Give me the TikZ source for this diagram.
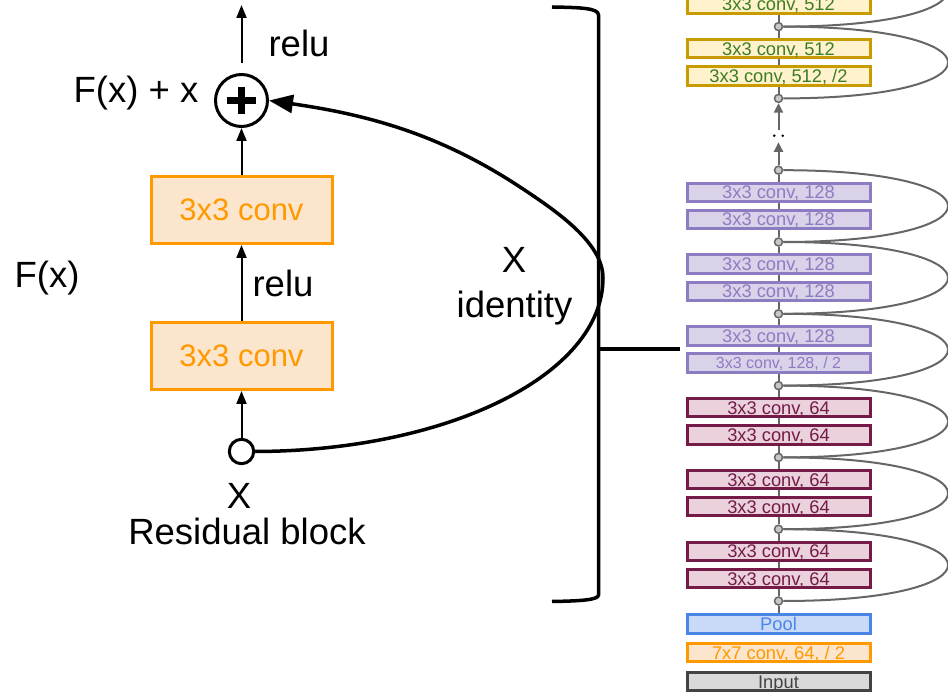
\documentclass[tikz,border=0pt]{standalone}
\usepackage{fontspec}
\setmainfont{Liberation Sans}
\usetikzlibrary{arrows.meta}
\definecolor{orng}{HTML}{FF9900}
\definecolor{orngf}{HTML}{FCE5CD}
\definecolor{goldb}{HTML}{C89B00}
\definecolor{goldf}{HTML}{FFF2CC}
\definecolor{goldt}{HTML}{3C7D22}
\definecolor{purpb}{HTML}{8E7CC3}
\definecolor{purpf}{HTML}{D9D2E9}
\definecolor{magb}{HTML}{741B47}
\definecolor{magf}{HTML}{EAD1DC}
\definecolor{blub}{HTML}{4A86E8}
\definecolor{bluf}{HTML}{C9DAF8}
\definecolor{gryb}{HTML}{434343}
\definecolor{gryf}{HTML}{D9D9D9}
\definecolor{linkgray}{HTML}{666666}
\definecolor{dotfill}{HTML}{C8C8C8}
\begin{document}
\begin{tikzpicture}[x=1pt,y=-1pt,
  lbl/.style={font=\fontsize{36.5}{40}\selectfont, inner sep=0pt, anchor=base},
  lconv/.style={draw=orng, fill=orngf, line width=3pt, minimum width=181pt, minimum height=67pt,
     text=orng, font=\fontsize{31}{34}\selectfont, inner sep=0pt, text height=22pt, text depth=0pt},
  rbox/.style={line width=3pt, minimum width=183pt, minimum height=18.5pt, inner sep=0pt,
     font=\fontsize{18.3}{20}\selectfont, text height=13pt, text depth=0pt},
  goldbox/.style={rbox, draw=goldb, fill=goldf, text=goldt},
  purpbox/.style={rbox, draw=purpb, fill=purpf, text=purpb},
  magbox/.style={rbox, draw=magb, fill=magf, text=magb},
  blubox/.style={rbox, draw=blub, fill=bluf, text=blub},
  orgbox/.style={rbox, draw=orng, fill=orngf, text=orng},
  grybox/.style={rbox, draw=gryb, fill=gryf, text=gryb},
  arr/.style={line width=2pt, -{Triangle[width=10pt,length=13pt]}},
  garr/.style={draw=linkgray, line width=2pt, -{Triangle[width=9pt,length=9.5pt]}},
  link/.style={draw=linkgray, line width=2pt},
  skiparc/.style={draw=linkgray, line width=2pt},
  dotc/.style={circle, draw=linkgray, fill=dotfill, line width=1.5pt, minimum size=8pt, inner sep=0pt}
]
\clip (0,0) rectangle (948,692);
\useasboundingbox (0,0) rectangle (948,692);

% ---------- left: residual block ----------
\node[circle, draw, line width=3pt, minimum size=52pt, inner sep=0pt] (plus) at (241.5,100.5) {};
\draw[line width=7.5pt] ([xshift=-14.5pt]plus.center) -- ([xshift=14.5pt]plus.center);
\draw[line width=7.5pt] ([yshift=-13.5pt]plus.center) -- ([yshift=13.5pt]plus.center);
\node[lconv] (conv2) at (241.5,210) {3x3 conv};
\node[lconv] (conv1) at (241.5,356) {3x3 conv};
\node[circle, draw, line width=3pt, minimum size=24.4pt, inner sep=0pt] (xc) at (241.5,451.5) {};
\coordinate (outtop) at (241.5,5);

\draw[arr] ([yshift=10pt]plus.north) -- (outtop);
\draw[arr] (conv2.north) -- (plus.south);
\draw[arr] (conv1.north) -- (conv2.south);
\draw[arr] (xc.north) -- (conv1.south);

\draw[line width=3.5pt, -{Triangle[width=18pt,length=24pt]}]
  (xc.east) .. controls (447,451) and (603,375) .. (603,278)
  .. controls (603,243) and (557.6,211.8) .. (520,187)
  .. controls (441,135) and (370,115) .. (plus.east);

\node[lbl] (relu1) at (299,57) {relu};
\node[lbl] (fxx) at (136,103) {F(x) + x};
\node[lbl] (fx) at (47,288) {F(x)};
\node[lbl] (relu2) at (283,296.7) {relu};
\node[lbl] (xlab) at (239,508) {X};
\node[lbl] (resb) at (247,544) {Residual block};
\node[lbl] (xid) at (514,273) {X};
\node[lbl] (ident) at (514.5,318) {identity};

% ---------- bracket ----------
\draw[line width=3.5pt] (552,7) .. controls (580,7.5) and (598.5,8) .. (598.5,15)
  -- (598.5,595) .. controls (598.5,600) and (580,601) .. (552,601.5);
\draw[line width=3.5pt] (598.5,349) -- (680,349);

% ---------- right: ResNet column ----------
\foreach \k in {0,...,8} \node[dotc] (c\k) at (778.5,{601-71.8*\k}) {};
\coordinate (c9) at (778.5,-45.2);

\node[grybox] (inp) at (778.5,681.5) {Input};
\node[orgbox] (c7x7) at (778.5,652.5) {7x7 conv, 64, / 2};
\node[blubox] (pool) at (778.5,624.2) {Pool};

\node[magbox] (b0a) at (778.5,578.5) {3x3 conv, 64};
\node[magbox] (b0b) at (778.5,551.3) {3x3 conv, 64};
\node[magbox] (b1a) at (778.5,506.7) {3x3 conv, 64};
\node[magbox] (b1b) at (778.5,479.5) {3x3 conv, 64};
\node[magbox] (b2a) at (778.5,434.9) {3x3 conv, 64};
\node[magbox] (b2b) at (778.5,407.7) {3x3 conv, 64};
\node[purpbox, font=\fontsize{16}{18}\selectfont, text height=11.5pt] (b3a) at (778.5,363.1) {3x3 conv, 128, / 2};
\node[purpbox] (b3b) at (778.5,335.9) {3x3 conv, 128};
\node[purpbox] (b4a) at (778.5,291.3) {3x3 conv, 128};
\node[purpbox] (b4b) at (778.5,264.1) {3x3 conv, 128};
\node[purpbox] (b5a) at (778.5,219.5) {3x3 conv, 128};
\node[purpbox] (b5b) at (778.5,192.3) {3x3 conv, 128};
\node[goldbox] (b7a) at (778.5,75.9) {3x3 conv, 512, /2};
\node[goldbox] (b7b) at (778.5,48.7) {3x3 conv, 512};
\node[goldbox] (b8a) at (778.5,4.1) {3x3 conv, 512};

\draw[link] (pool.north) -- (c0.south);
\foreach \k [evaluate=\k as \n using int(\k+1)] in {0,1,2,3,4,5} {
  \draw[link] (c\k.north) -- (b\k a.south);
  \draw[link] (b\k a.north) -- (b\k b.south);
  \draw[link] (b\k b.north) -- (c\n.south);
}
\draw[link] (c7.north) -- (b7a.south);
\draw[link] (b7a.north) -- (b7b.south);
\draw[link] (b7b.north) -- (c8.south);
\draw[link] (c8.north) -- (b8a.south);

\coordinate (dotlo) at (778.5,142.3);
\coordinate (dothi) at (778.5,130);
\draw[garr] (c6.north) -- (dotlo);
\draw[garr] (dothi) -- (c7.south);
\fill (774.3,135.7) circle (1.4pt);
\fill (782.7,135.7) circle (1.4pt);

\foreach \a/\b in {0/1,1/2,2/3,3/4,4/5,5/6,7/8,8/9} {
  \path (c\a) coordinate (pa) (c\b) coordinate (pb);
  \draw[skiparc] (c\a.east) .. controls (1003,{601-71.8*\a}) and (1003,{601-71.8*\b}) .. (c\b);
}
\end{tikzpicture}
\end{document}
